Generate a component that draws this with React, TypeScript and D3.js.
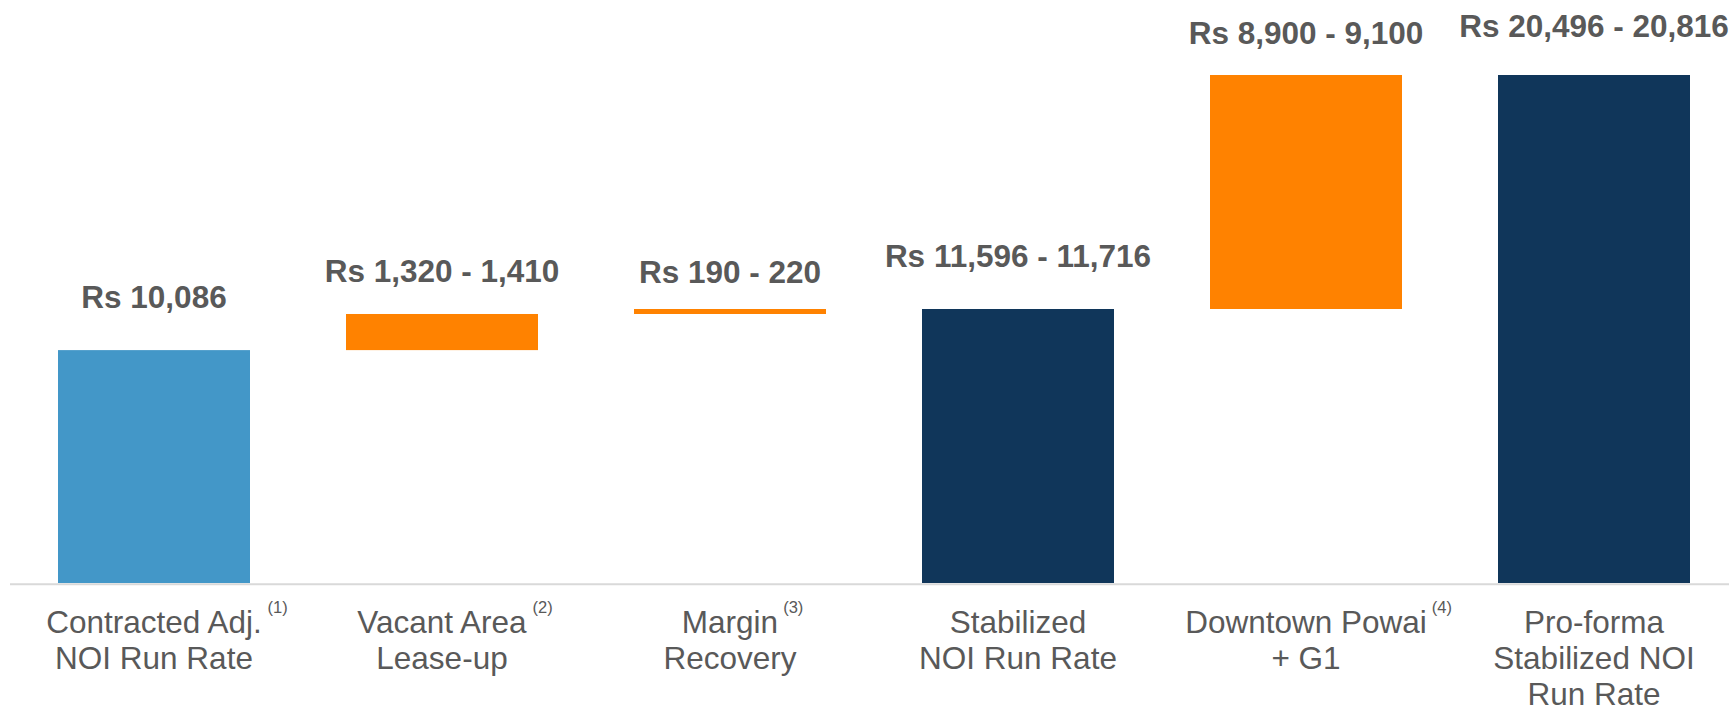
import React, { useMemo } from "react";
import * as d3 from "d3";

// ---- data ----
const categories = [
  "Contracted Adj. NOI Run Rate",
  "Vacant Area Lease-up",
  "Margin Recovery",
  "Stabilized NOI Run Rate",
  "Downtown Powai + G1",
  "Pro-forma Stabilized NOI Run Rate",
];
const categoryLines = [
  ["Contracted Adj.", "NOI Run Rate"],
  ["Vacant Area", "Lease-up"],
  ["Margin", "Recovery"],
  ["Stabilized", "NOI Run Rate"],
  ["Downtown Powai", "+ G1"],
  ["Pro-forma", "Stabilized NOI", "Run Rate"],
];
const footnotes = ["(1)", "(2)", "(3)", "", "(4)", ""];
// bar extents (Rs, as drawn)
const barStart = [0, 10086, 11650, 0, 11866, 0];
const barEnd = [10086, 11650, 11866, 11866, 22000, 22000];
const valueLabels = [
  "Rs 10,086",
  "Rs 1,320 - 1,410",
  "Rs 190 - 220",
  "Rs 11,596 - 11,716",
  "Rs 8,900 - 9,100",
  "Rs 20,496 - 20,816",
];
const barKind = ["start", "delta", "delta", "total", "delta", "total"];

// ---- layout ----
const W = 1729;
const H = 707;
const baseY = 583;
const labelGap = [42, 32, 26, 42, 31, 38];
const colors: Record<string, string> = {
  start: "#4397C8",
  delta: "#FF8200",
  total: "#10365A",
};
const textColor = "#595959";
const catFont = 31.5;
const valFont = 31.5;
const supFont = 16.5;
const fontFamily = "'Liberation Sans', Arial, sans-serif";

export default function App() {
  const x = d3
    .scaleBand<string>()
    .domain(categories)
    .range([10, 1738])
    .paddingInner(1 / 3)
    .paddingOuter(1 / 6);
  const y = d3.scaleLinear().domain([0, 22000]).range([baseY, 75]);

  const widths = useMemo(() => {
    const c = document.createElement("canvas").getContext("2d");
    if (!c) return categoryLines.map(() => 0);
    c.font = `${catFont}px ${fontFamily}`;
    return categoryLines.map((l) => c.measureText(l[0]).width);
  }, []);

  return (
    <svg
      width={W}
      height={H}
      style={{ position: "absolute", left: 0, top: 0, background: "#fff" }}
      fontFamily={fontFamily}
    >
      <line x1={10} x2={W} y1={584.3} y2={584.3} stroke="#d9d9d9" strokeWidth={2} />
      {categories.map((c, i) => {
        const bx = x(c)!;
        const bw = x.bandwidth();
        const cx = bx + bw / 2;
        const top = y(barEnd[i]);
        const bot = y(barStart[i]);
        return (
          <g key={c}>
            <rect x={bx} y={top} width={bw} height={bot - top} fill={colors[barKind[i]]} />
            <text
              x={cx}
              y={top - labelGap[i]}
              textAnchor="middle"
              fontWeight="bold"
              fontSize={valFont}
              fill={textColor}
            >
              {valueLabels[i]}
            </text>
            {categoryLines[i].map((line, j) => (
              <text
                key={j}
                x={cx}
                y={633 + j * 36}
                textAnchor="middle"
                fontSize={catFont}
                fill={textColor}
              >
                {line}
              </text>
            ))}
            {footnotes[i] && (
              <text
                x={cx + widths[i] / 2 + 5}
                y={613}
                fontSize={supFont}
                fill={textColor}
              >
                {footnotes[i]}
              </text>
            )}
          </g>
        );
      })}
    </svg>
  );
}
